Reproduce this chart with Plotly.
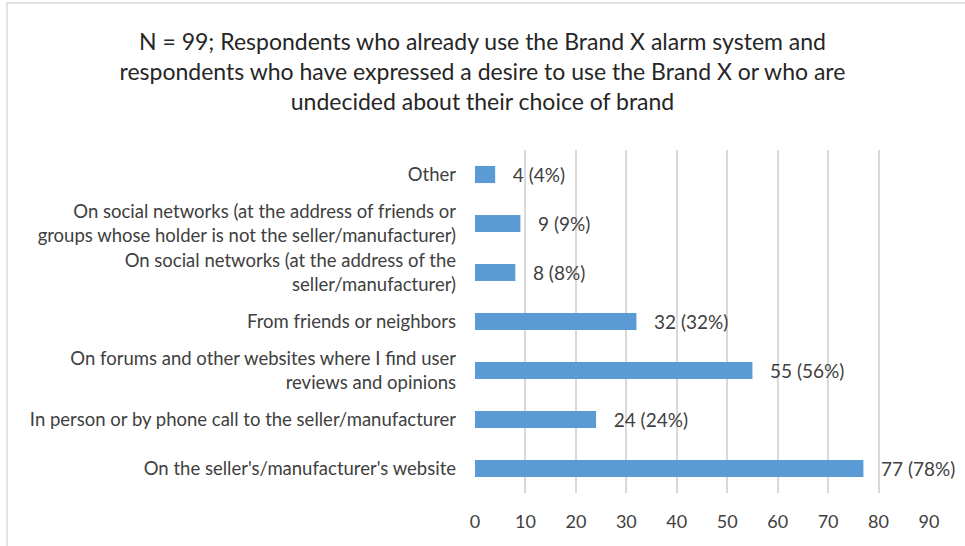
import plotly.graph_objects as go

categories = [
    "On the seller's/manufacturer's website",
    "In person or by phone call to the seller/manufacturer",
    "On forums and other websites where I find user<br>reviews and opinions",
    "From friends or neighbors",
    "On social networks (at the address of the<br>seller/manufacturer)",
    "On social networks (at the address of friends or<br>groups whose holder is not the seller/manufacturer)",
    "Other",
]
counts = [77, 24, 55, 32, 8, 9, 4]
percents = [78, 24, 56, 32, 8, 9, 4]
x_ticks = [0, 10, 20, 30, 40, 50, 60, 70, 80, 90]

title_text = (
    "N = 99; Respondents who already use the Brand X alarm system and<br>"
    "respondents who have expressed a desire to use the Brand X or who are<br>"
    "undecided about their choice of brand"
)

# value labels: count followed by share of respondents, set off from the bar end
labels = ["\u00a0\u00a0\u00a0" + f"{c} ({p}%)" for c, p in zip(counts, percents)]

# plot area in pixels: x 475..929, y 150..493
PLOT_L, PLOT_R, PLOT_T, PLOT_B = 475, 929, 150, 493
W, H = 965, 546
pw, ph = PLOT_R - PLOT_L, PLOT_B - PLOT_T

fig = go.Figure(
    go.Bar(
        x=counts,
        y=categories,
        orientation="h",
        marker=dict(color="#5B9BD5", line=dict(width=0)),
        width=0.35,
        text=labels,
        textposition="outside",
        constraintext="none",
        textfont=dict(size=19, color="#404040"),
        cliponaxis=False,
    )
)

fig.update_layout(
    width=W,
    height=H,
    paper_bgcolor="white",
    plot_bgcolor="white",
    font=dict(family="Lato, Open Sans, sans-serif", color="#404040"),
    title=dict(
        text=title_text,
        x=0.5,
        xanchor="center",
        y=0.908,
        yanchor="top",
        font=dict(size=23, color="#262626"),
    ),
    margin=dict(l=PLOT_L, r=W - PLOT_R, t=PLOT_T, b=H - PLOT_B),
    showlegend=False,
    shapes=[
        # light frame around the chart
        dict(
            type="rect", xref="paper", yref="paper",
            x0=(7 - PLOT_L) / pw, x1=1.3,
            y0=-1, y1=(PLOT_B - 3) / ph,
            line=dict(color="#D9D9D9", width=1.5), fillcolor="rgba(0,0,0,0)",
            layer="below",
        )
    ],
)

fig.update_xaxes(
    range=[0, 90],
    tickvals=x_ticks,
    showgrid=True,
    gridcolor="#D9D9D9",
    gridwidth=2,
    zeroline=False,
    showline=False,
    ticks="",
    tickfont=dict(size=18, color="#404040"),
    ticklabelstandoff=16,
    fixedrange=True,
)
fig.update_yaxes(
    showgrid=False,
    showline=False,
    ticks="",
    tickfont=dict(size=18.5, color="#404040"),
    ticklabelstandoff=18,
)

fig.write_html("out.html")
